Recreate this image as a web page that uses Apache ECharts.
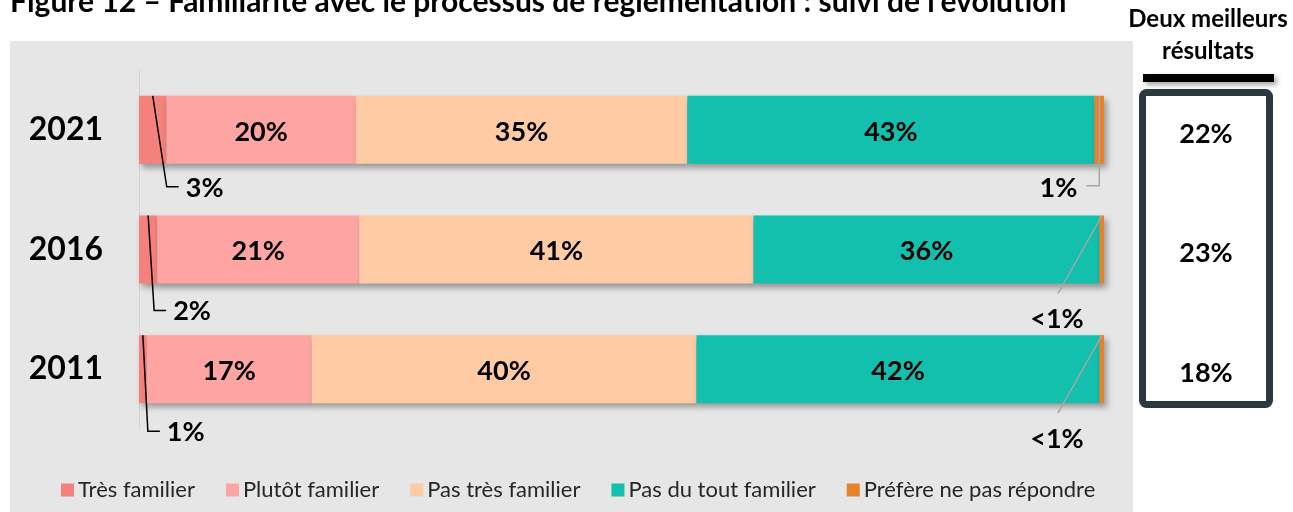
<!DOCTYPE html>
<html>
<head>
<meta charset="utf-8">
<script src="https://cdn.jsdelivr.net/npm/echarts@6/dist/echarts.min.js"></script>
<style>
html, body { margin: 0; padding: 0; background: #fff; }
#chart { width: 1293px; height: 512px; }
</style>
</head>
<body>
<div id="chart"></div>
<script>
// années (du haut vers le bas)
const years = ['2021', '2016', '2011'];
const seriesNames = ['Très familier', 'Plutôt familier', 'Pas très familier', 'Pas du tout familier', 'Préfère ne pas répondre'];

// valeurs (%)
const tresFamilier = [2.9, 1.9, 0.8];
const plutotFamilier = [20, 21, 17.1];
const pasTresFamilier = [35, 41, 39.9];
const pasDuToutFamilier = [43, 36, 41.8];
const prefere = [1.0, 0.45, 0.45];

// étiquettes affichées
const tresLabels = ['3%', '2%', '1%'];
const plutotLabels = ['20%', '21%', '17%'];
const pasTresLabels = ['35%', '41%', '40%'];
const pasDuToutLabels = ['43%', '36%', '42%'];
const prefereLabels = ['1%', '<1%', '<1%'];
const deuxMeilleurs = ['22%', '23%', '18%'];

const colors = ['#f4817b', '#fea5a4', '#fecba5', '#13bfad', '#e8822a'];
const FONT = 'Lato, "Open Sans", sans-serif';
const LABEL_FONT = 'bold 27px ' + FONT;

/** barres normalisées à 100 % */
const rows = [tresFamilier, plutotFamilier, pasTresFamilier, pasDuToutFamilier, prefere];
const totals = years.map((y, i) => rows.reduce((s, r) => s + r[i], 0));
const norm = (arr) => arr.map((v, i) => v / totals[i] * 100);
const labelSets = [tresLabels, plutotLabels, pasTresLabels, pasDuToutLabels, prefereLabels];

const chart = echarts.init(document.getElementById('chart'));

const barSeries = rows.map((arr, k) => ({
    name: seriesNames[k],
    type: 'bar',
    stack: 'total',
    barWidth: 68,
    data: norm(arr),
    itemStyle: {
        color: colors[k],
        shadowColor: 'rgba(0,0,0,0.35)',
        shadowBlur: 6,
        shadowOffsetX: 3,
        shadowOffsetY: 4
    },
    label: {
        show: k > 0 && k < 4,
        formatter: (p) => labelSets[k][p.dataIndex],
        color: '#000',
        fontFamily: FONT,
        fontWeight: 'bold',
        fontSize: 27,
        offset: [0, 2]
    },
    emphasis: { disabled: true }
}));

const leftDx = [14, 6, 5];
const leftDy = [57, 61, 62];

const leftCallout = {
    type: 'custom',
    silent: true,
    z: 10,
    data: norm(tresFamilier).map((v, i) => [v / 2, i]),
    renderItem: (params, api) => {
        const i = params.dataIndex;
        const p = api.coord([api.value(0), i]);
        const top = p[1] - 34;
        const ly = p[1] + leftDy[i];
        const bx = p[0] + leftDx[i];
        return {
            type: 'group',
            children: [
                { type: 'polyline', shape: { points: [[p[0], top], [bx, ly], [bx + 12, ly]] },
                  style: { stroke: '#000', lineWidth: 1.5, fill: null } },
                { type: 'text', style: { x: bx + 19, y: ly + 1, text: tresLabels[i], align: 'left', verticalAlign: 'middle',
                  font: LABEL_FONT, fill: '#000' } }
            ]
        };
    }
};

const rightCallout = {
    type: 'custom',
    silent: true,
    z: 10,
    data: norm(prefere).map((v, i) => [100 - v / 2, i]),
    renderItem: (params, api) => {
        const i = params.dataIndex;
        const p = api.coord([api.value(0), i]);
        const end = api.coord([100, i])[0];
        const top = p[1] - 34;
        let line, tx, ty, align;
        if (i === 0) {
            const ly = p[1] + 56;
            line = [[p[0], top], [p[0], ly], [p[0] - 13, ly]];
            tx = p[0] - 22; ty = ly + 2; align = 'right';
        } else {
            line = [[end - 2, top], [end - 46, p[1] + 44]];
            tx = end - 47; ty = p[1] + 70; align = 'center';
        }
        return {
            type: 'group',
            children: [
                { type: 'polyline', shape: { points: line },
                  style: { stroke: '#a6a6a6', lineWidth: 1.5, fill: null } },
                { type: 'text', style: { x: tx, y: ty, text: prefereLabels[i], align: align, verticalAlign: 'middle',
                  font: LABEL_FONT, fill: '#000' } }
            ]
        };
    }
};

const topTwo = {
    type: 'custom',
    xAxisIndex: 1,
    yAxisIndex: 1,
    silent: true,
    z: 10,
    data: deuxMeilleurs.map((v, i) => [0.5, i]),
    renderItem: (params, api) => {
        const p = api.coord([api.value(0), api.value(1)]);
        return {
            type: 'text',
            style: { x: p[0], y: p[1] + 4, text: deuxMeilleurs[params.dataIndex], align: 'center', verticalAlign: 'middle',
              font: LABEL_FONT, fill: '#000' }
        };
    }
};

const options = {
    animation: false,
    backgroundColor: '#fff',
    textStyle: { fontFamily: FONT },
    grid: [
        { left: 139, right: 189, top: 70, bottom: 83, outerBoundsMode: 'none' },
        { left: 1139, width: 134, top: 70, bottom: 83, outerBoundsMode: 'none' }
    ],
    xAxis: [
        { type: 'value', min: 0, max: 100, show: false, gridIndex: 0 },
        { type: 'value', min: 0, max: 1, show: false, gridIndex: 1 }
    ],
    yAxis: [
        {
            type: 'category',
            data: years,
            inverse: true,
            gridIndex: 0,
            axisLine: { show: true, lineStyle: { color: '#d4d4d4', width: 1 } },
            axisTick: { show: false },
            axisLabel: { color: '#000', fontFamily: FONT, fontWeight: 'bold', fontSize: 32, margin: 36 }
        },
        { type: 'category', data: years, inverse: true, gridIndex: 1, show: false }
    ],
    legend: {
        data: seriesNames,
        left: 56,
        top: 474,
        icon: 'rect',
        itemWidth: 13,
        itemHeight: 13,
        itemGap: 31,
        selectedMode: false,
        textStyle: { fontFamily: FONT, fontSize: 22, color: '#262626', padding: [0, 0, 0, -1] }
    },
    graphic: [
        { type: 'rect', z: -10, shape: { x: 10, y: 41, width: 1123, height: 480 }, style: { fill: '#e6e6e6' } },
        { type: 'text', z: 5, style: { x: 10, y: 2, text: 'Figure 12 – Familiarité avec le processus de réglementation : suivi de l\u2019évolution',
          font: 'bold 30px ' + FONT, fill: '#000', verticalAlign: 'middle' } },
        { type: 'text', z: 5, style: { x: 1208, y: 19, text: 'Deux meilleurs', align: 'center', verticalAlign: 'middle',
          font: 'bold 24px ' + FONT, fill: '#000' } },
        { type: 'text', z: 5, style: { x: 1208, y: 51, text: 'résultats', align: 'center', verticalAlign: 'middle',
          font: 'bold 24px ' + FONT, fill: '#000' } },
        { type: 'rect', z: 1, shape: { x: 1143, y: 74, width: 131, height: 8 },
          style: { fill: '#000', shadowColor: 'rgba(0,0,0,0.35)', shadowBlur: 5, shadowOffsetX: 3, shadowOffsetY: 3 } },
        { type: 'rect', z: 1, shape: { x: 1142.5, y: 92.5, width: 127, height: 312, r: 4 },
          style: { fill: '#fff', stroke: '#2b393f', lineWidth: 7 } }
    ],
    series: [...barSeries, leftCallout, rightCallout, topTwo]
};

chart.setOption(options);
</script>
</body>
</html>
